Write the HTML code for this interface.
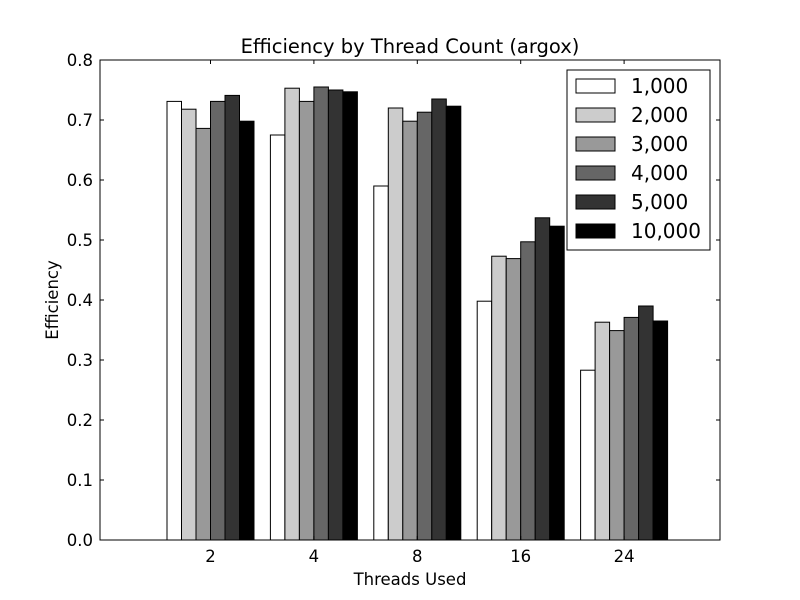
<!DOCTYPE html>
<html><head><meta charset="utf-8"><style>
body{margin:0;background:#fff;}
svg{display:block;font-family:"DejaVu Sans","Liberation Sans",sans-serif;}
</style></head><body>
<svg id="chart" width="800" height="600" viewBox="0 0 800 600">
<rect width="800" height="600" fill="#fff"/>
<text x="410" y="53" font-size="19.5" text-anchor="middle">Efficiency by Thread Count (argox)</text>
<text x="410" y="585" font-size="16.5" text-anchor="middle">Threads Used</text>
<text transform="translate(58,300) rotate(-90)" font-size="16.5" text-anchor="middle">Efficiency</text>
<g id="bars"></g>
<g id="axes"></g>
<rect x="100" y="60" width="620" height="480" fill="none" stroke="#000" stroke-width="1"/>
<g id="legend"></g>
</svg>
<script>
const categories = ["2","4","8","16","24"];
const seriesNames = ["1,000","2,000","3,000","4,000","5,000","10,000"];
const s1000 = [0.731,0.675,0.590,0.398,0.283];
const s2000 = [0.718,0.753,0.720,0.473,0.363];
const s3000 = [0.686,0.731,0.698,0.469,0.349];
const s4000 = [0.731,0.755,0.713,0.497,0.371];
const s5000 = [0.741,0.750,0.735,0.537,0.390];
const s10000 = [0.698,0.747,0.723,0.523,0.365];
const yTicks = [0.0,0.1,0.2,0.3,0.4,0.5,0.6,0.7,0.8];
const series = [s1000,s2000,s3000,s4000,s5000,s10000];
const colors = ["#ffffff","#cccccc","#999999","#666666","#333333","#000000"];
const NS = "http://www.w3.org/2000/svg";
const yScale = v => 540 - v/0.8*480;
const groupCenter = i => 210.5 + i*103.4;
const barW = 14.5;
function mk(tag, attrs, parent){const e=document.createElementNS(NS,tag);for(const k in attrs)e.setAttribute(k,attrs[k]);parent.appendChild(e);return e;}
const bars = document.getElementById('bars');
series.forEach((s,si)=>{
  s.forEach((v,ci)=>{
    const x = groupCenter(ci) - 3*barW + si*barW;
    const r = mk('rect',{x:x,y:yScale(v),width:barW,height:540-yScale(v),fill:colors[si],stroke:'#000','stroke-width':1},bars);
    
    
  });
});
const axes = document.getElementById('axes');
yTicks.forEach(t=>{
  const y = yScale(t);
  mk('line',{x1:100,x2:104,y1:y,y2:y,stroke:'#000'},axes);
  mk('line',{x1:716,x2:720,y1:y,y2:y,stroke:'#000'},axes);
  const tx = mk('text',{x:93,y:y+6,'font-size':16.5,'text-anchor':'end'},axes);
  tx.textContent = t.toFixed(1);
  
  
});
categories.forEach((c,i)=>{
  const x = groupCenter(i);
  mk('line',{x1:x,x2:x,y1:536,y2:540,stroke:'#000'},axes);
  mk('line',{x1:x,x2:x,y1:60,y2:64,stroke:'#000'},axes);
  const tx = mk('text',{x:x,y:562,'font-size':16.5,'text-anchor':'middle'},axes);
  tx.textContent = c;
  
  
});
const lg = document.getElementById('legend');


mk('rect',{x:567,y:70,width:143,height:180,fill:'#fff',stroke:'#000'},lg);
seriesNames.forEach((n,i)=>{
  const y = 79 + i*29;
  const p = mk('rect',{x:576,y:y,width:39,height:14,fill:colors[i],stroke:'#000'},lg);
  
  
  const t = mk('text',{x:631,y:y+14,'font-size':20,},lg);
  t.textContent = n;
  
  
});
</script>
</body></html>
